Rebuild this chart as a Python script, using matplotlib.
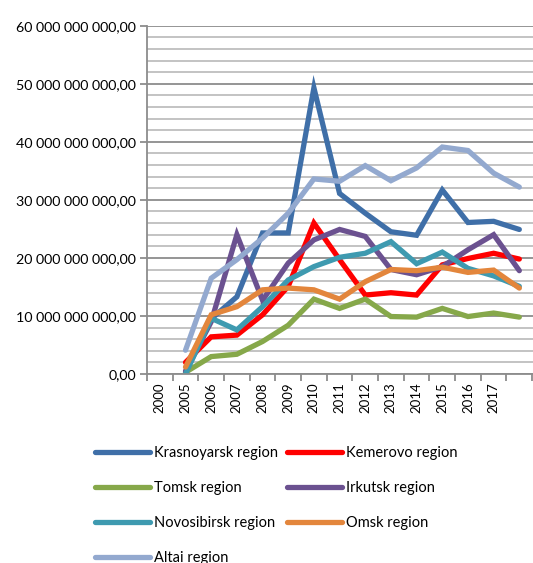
import matplotlib
matplotlib.use("Agg")
import matplotlib.pyplot as plt
from matplotlib.ticker import FixedLocator, FuncFormatter, MultipleLocator

plt.rcParams['font.family'] = ['Lato', 'DejaVu Sans']

years = ["2000", "2005", "2006", "2007", "2008", "2009", "2010", "2011",
         "2012", "2013", "2014", "2015", "2016", "2017", ""]

# values in billions, for categories 2005 .. last (index 1..14)
krasnoyarsk = [0.3, 9.5, 13.3, 24.3, 24.3, 49.3, 31.1, 27.7, 24.5, 23.9, 31.7, 26.1, 26.3, 24.9]
kemerovo = [2.0, 6.4, 6.7, 10.2, 15.1, 26.0, 19.7, 13.6, 14.0, 13.6, 18.8, 19.9, 20.8, 19.8]
tomsk = [0.3, 3.0, 3.4, 5.6, 8.4, 12.9, 11.3, 12.9, 9.9, 9.8, 11.3, 9.9, 10.5, 9.8]
irkutsk = [0.5, 9.0, 24.0, 12.7, 19.1, 23.1, 24.9, 23.7, 18.0, 17.1, 18.5, 21.4, 24.0, 17.8]
novosibirsk = [0.0, 9.6, 7.6, 11.6, 16.2, 18.5, 20.1, 20.8, 22.8, 19.0, 21.0, 18.2, 16.9, 15.1]
omsk = [1.2, 10.2, 11.6, 14.5, 14.8, 14.5, 12.9, 15.9, 18.0, 17.8, 18.4, 17.5, 17.9, 14.8]
altai = [4.1, 16.5, 19.7, 23.4, 27.7, 33.6, 33.2, 35.9, 33.3, 35.5, 39.1, 38.5, 34.6, 32.2]

series = [
    ("Krasnoyarsk region", krasnoyarsk, "#3F6FA8"),
    ("Kemerovo region", kemerovo, "#FF0000"),
    ("Tomsk region", tomsk, "#86A84A"),
    ("Irkutsk region", irkutsk, "#6B5190"),
    ("Novosibirsk region", novosibirsk, "#3E9AB0"),
    ("Omsk region", omsk, "#E3863C"),
    ("Altai region", altai, "#93A9CF"),
]

W, H = 533, 563
fig = plt.figure(figsize=(W / 100, H / 100), dpi=100)
left, right, top, bottom = 147, 545, 25.7, 374
ax = fig.add_axes([left / W, (H - bottom) / H, (right - left) / W, (bottom - top) / H])

handles = {}
for name, vals, col in series:
    xs = list(range(1, 1 + len(vals)))
    ys = [v * 1e9 for v in vals]
    ln, = ax.plot(xs, ys, color=col, lw=3.8, solid_joinstyle='miter', solid_capstyle='round', label=name)
    handles[name] = ln

ax.set_xlim(-0.5, 15.0)
ax.set_ylim(0, 60e9)

ax.yaxis.set_major_locator(MultipleLocator(10e9))
ax.yaxis.set_minor_locator(MultipleLocator(2e9))
def fmt(v, pos):
    s = f"{int(round(v)):,}".replace(",", " ")
    return s + ",00"
ax.yaxis.set_major_formatter(FuncFormatter(fmt))
ax.grid(which='major', axis='y', color='#8C8C8C', lw=1.3)
ax.grid(which='minor', axis='y', color='#BEBEBE', lw=1.3)
ax.set_axisbelow(True)

ax.set_xticks(range(len(years)))
ax.set_xticklabels(years, rotation=90, fontsize=9.5)
ax.xaxis.set_minor_locator(FixedLocator([i + 0.5 for i in range(-1, 16)]))
ax.tick_params(axis='x', which='major', length=0, pad=6)
ax.tick_params(axis='x', which='minor', length=5, color='#8C8C8C', width=1.3)
ax.tick_params(axis='y', which='major', length=5, color='#8C8C8C', width=1.3, labelsize=10.3, pad=3)
ax.tick_params(axis='y', which='minor', length=0)

for s in ['top', 'right']:
    ax.spines[s].set_visible(False)
for s in ['left', 'bottom']:
    ax.spines[s].set_color('#8C8C8C')
    ax.spines[s].set_linewidth(1.3)

order = ["Krasnoyarsk region", "Tomsk region", "Novosibirsk region", "Altai region",
         "Kemerovo region", "Irkutsk region", "Omsk region"]
leg = fig.legend([handles[n] for n in order], order, ncol=2, frameon=False,
                 loc='upper left', bbox_to_anchor=(95 / W, (H - 446) / H),
                 fontsize=10.5, handlelength=3.8, handletextpad=0.28,
                 labelspacing=1.45, columnspacing=0.55, borderpad=0, borderaxespad=0)

fig.savefig("out.png", dpi=100)
